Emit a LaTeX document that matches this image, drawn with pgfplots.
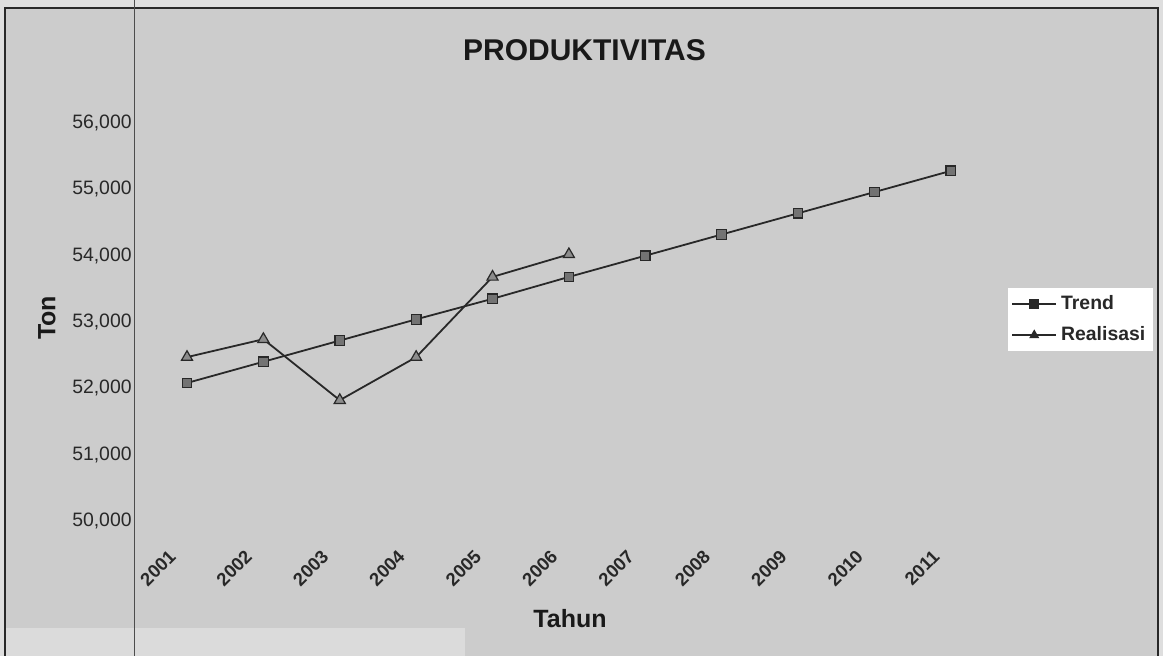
\documentclass[border=0pt]{standalone}
\usepackage{pgfplots}
\pgfplotsset{compat=1.18}
\usepackage{fontspec}
\setmainfont{Liberation Sans}

\definecolor{paper}{RGB}{204,204,204}
\definecolor{margin}{RGB}{222,222,222}
\definecolor{ink}{RGB}{40,40,40}

\begin{document}
\begin{tikzpicture}
  % page and scanned frame
  \useasboundingbox (0,0) rectangle (581.5pt,328pt);
  \fill[margin] (0,0) rectangle (581.5pt,328pt);
  \fill[paper] (2.5pt,0) rectangle (579pt,324pt);
  \fill[black!14] (3pt,0) rectangle (232.5pt,14pt);
  \draw[ink, line width=0.8pt] (2.5pt,0) -- (2.5pt,324pt) -- (579pt,324pt) -- (579pt,0);
  \draw[black!70, line width=0.5pt] (67pt,0) -- (67pt,328pt);

  \begin{axis}[
    at={(67pt,51pt)}, anchor=south west,
    scale only axis,
    width=427.5pt, height=232pt,
    xmin=2000.306, xmax=2011.5,
    ymin=49500, ymax=56500,
    xtick={2001,2002,2003,2004,2005,2006,2007,2008,2009,2010,2011},
    xticklabels={2001,2002,2003,2004,2005,2006,2007,2008,2009,2010,2011},
    ytick={50000,51000,52000,53000,54000,55000,56000},
    scaled y ticks=false,
    /pgf/number format/assume math mode=true,
    /pgf/number format/1000 sep={,},
    axis line style={draw=none},
    major tick length=0pt,
    xticklabel style={font=\bfseries\fontsize{9.2}{10}\selectfont, text=ink,
      xshift=-6.5pt, yshift=1pt, rotate=45, anchor=east, inner sep=1pt},
    yticklabel style={font=\fontsize{9.7}{11}\selectfont, text=ink, inner sep=1pt},
    legend style={at={(1.021,0.575)}, anchor=north west, fill=white,
      draw=black!20, font=\bfseries\fontsize{9.7}{11}\selectfont, text=ink,
      inner sep=2pt, row sep=3pt},
    legend cell align=left,
    legend image code/.code={
      \draw[mark repeat=2,mark phase=2, mark options={fill=ink}]
        plot coordinates {(0pt,0pt)(11pt,0pt)(22pt,0pt)};
    },
    clip=false,
  ]
    \addplot[color=ink, line width=0.9pt, mark=square*,
      mark options={fill=black!55, draw=ink, mark size=2.4pt, line width=0.6pt}]
    coordinates {
      (2001,52080)(2002,52400)(2003,52720)(2004,53040)(2005,53350)(2006,53680)
      (2007,54000)(2008,54320)(2009,54640)(2010,54960)(2011,55280)
    };
    \addplot[color=ink, line width=0.9pt, mark=triangle*,
      mark options={fill=black!45, draw=ink, mark size=3.2pt, line width=0.6pt}]
    coordinates {
      (2001,52470)(2002,52740)(2003,51820)(2004,52470)(2005,53680)(2006,54020)
    };
    \legend{Trend,Realisasi}
  \end{axis}

  \node[font=\bfseries\fontsize{15}{18}\selectfont, text=black!90] at (292.25pt,303pt) {PRODUKTIVITAS};
  \node[font=\bfseries\fontsize{12.5}{14}\selectfont, text=black!90] at (285pt,18.5pt) {Tahun};
  \node[font=\bfseries\fontsize{12.5}{14}\selectfont, text=black!90, rotate=90] at (23.5pt,169pt) {Ton};
\end{tikzpicture}
\end{document}
